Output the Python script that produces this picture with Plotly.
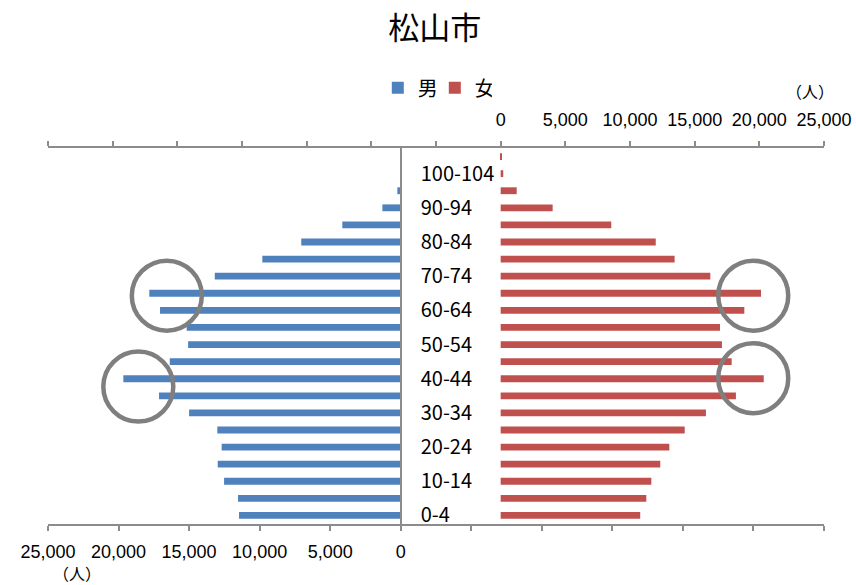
import plotly.graph_objects as go

# Age groups, bottom to top
age_groups = ["0-4", "5-9", "10-14", "15-19", "20-24", "25-29", "30-34", "35-39",
              "40-44", "45-49", "50-54", "55-59", "60-64", "65-69", "70-74", "75-79",
              "80-84", "85-89", "90-94", "95-99", "100-104", "105-"]

# Population (persons)
male = [11460, 11530, 12520, 12970, 12690, 13000, 15000, 17130,
        19660, 16370, 15070, 15170, 17060, 17820, 13180, 9810,
        7050, 4140, 1300, 240, 30, 5]
female = [10790, 11260, 11650, 12340, 13040, 14230, 15870, 18190,
          20340, 17860, 17110, 16960, 18840, 20130, 16210, 13450,
          11990, 8550, 4020, 1240, 200, 50]

# Tick values for the two value axes (only non-negative ones are labelled)
male_ticks = list(range(-30000, 25001, 5000))
female_ticks = list(range(-35000, 25001, 5000))
labeled_groups = age_groups[0:21:2]

AXIS_GREY = "#8C8C8C"
NUM_FONT = dict(family="Liberation Sans, Arial, sans-serif", size=18, color="#000000")
JP_FONT = "Noto Sans CJK JP"


def tick_text(v):
    return f"{v:,}" if v >= 0 else ""


fig = go.Figure()
fig.add_trace(go.Bar(
    y=age_groups, x=male, orientation="h", name="男",
    marker=dict(color="#4F81BD", line=dict(width=0)),
    width=0.4, xaxis="x", yaxis="y",
))
fig.add_trace(go.Bar(
    y=age_groups, x=female, orientation="h", name="女",
    marker=dict(color="#C0504D", line=dict(width=0)),
    width=0.4, xaxis="x2", yaxis="y",
))

value_axis = dict(
    showgrid=False, zeroline=False, showline=True,
    linecolor=AXIS_GREY, linewidth=2,
    ticks="outside", ticklen=5, tickwidth=2, tickcolor=AXIS_GREY,
    tickfont=NUM_FONT, automargin=False, fixedrange=True,
)

fig.update_layout(
    width=856, height=585,
    margin=dict(l=48, r=32, t=148, b=61),
    paper_bgcolor="white", plot_bgcolor="white",
    barmode="overlay",
    showlegend=True,
    title=dict(text="松山市", x=0.508, xref="container", xanchor="center",
               y=0.952, yref="container", yanchor="middle",
               font=dict(family=JP_FONT, size=31, color="#000000")),
    legend=dict(orientation="h", x=0.425, xanchor="left", y=1.16, yanchor="middle",
                font=dict(family=JP_FONT, size=20, color="#000000"),
                bgcolor="rgba(0,0,0,0)", itemwidth=30, traceorder="normal",
                entrywidth=12, entrywidthmode="pixels"),
    xaxis=dict(value_axis, range=[25000, -30000], tickvals=male_ticks,
               ticktext=[tick_text(v) for v in male_ticks], side="bottom",
               ticklabelstandoff=5),
    xaxis2=dict(value_axis, range=[-35000, 25000], tickvals=female_ticks,
                ticktext=[tick_text(v) for v in female_ticks],
                side="top", overlaying="x", anchor="y", ticklabelstandoff=8),
    yaxis=dict(type="category", categoryorder="array", categoryarray=age_groups,
               range=[-0.5, len(age_groups) - 0.5],
               tickvals=labeled_groups, ticktext=labeled_groups,
               showgrid=False, zeroline=False, showline=True,
               linecolor=AXIS_GREY, linewidth=2, ticks="",
               anchor="free", position=0.4545, side="right",
               ticklabelstandoff=15,
               tickfont=dict(family=JP_FONT, size=20, color="#000000"),
               automargin=False, fixedrange=True),
)

# Unit labels
unit_font = dict(family=JP_FONT, size=16, color="#000000")
fig.add_annotation(text="（人）", xref="paper", yref="paper", x=0.982, y=1.1516,
                   xanchor="center", yanchor="middle", showarrow=False, font=unit_font)
fig.add_annotation(text="（人）", xref="paper", yref="paper", x=0.038, y=-0.13,
                   xanchor="center", yanchor="middle", showarrow=False, font=unit_font)

# Highlight rings around the peak age groups
ring = dict(type="circle", xsizemode="pixel", ysizemode="pixel",
            x0=-35, x1=35, y0=-35, y1=35,
            line=dict(color="#7F7F7F", width=4.5), layer="above")
fig.add_shape(ring, xref="x", yref="y", xanchor=16580, yanchor=12.86)
fig.add_shape(ring, xref="x", yref="y", xanchor=18600, yanchor=7.54)
fig.add_shape(ring, xref="x2", yref="y", xanchor=19530, yanchor=12.86)
fig.add_shape(ring, xref="x2", yref="y", xanchor=19530, yanchor=8.03)

fig.write_html("out.html")
